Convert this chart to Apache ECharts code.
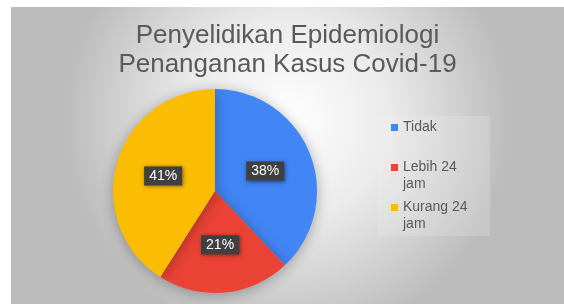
<!DOCTYPE html>
<html>
<head>
<meta charset="utf-8">
<script src="https://cdn.jsdelivr.net/npm/echarts@6/dist/echarts.min.js"></script>
<style>
html,body{margin:0;padding:0;background:#fff;}
#wrap{position:relative;width:564px;height:304px;overflow:hidden;background:#fff;}
#chart{position:absolute;left:11px;top:7px;width:553px;height:297px;}
</style>
</head>
<body>
<div id="wrap"><div id="chart"></div></div>
<script>
var titleLines = ['Penyelidikan Epidemiologi', 'Penanganan Kasus Covid-19'];
var categories = ['Tidak', 'Lebih 24 jam', 'Kurang 24 jam'];
var legendLines = [['Tidak'], ['Lebih 24', 'jam'], ['Kurang 24', 'jam']];
var values = [38, 21, 41];
var colors = ['#4285F4', '#EA4335', '#FBBC04'];

var chart = echarts.init(document.getElementById('chart'), null, {renderer: 'canvas'});
var data = categories.map(function (c, i) {
  return {name: c, value: values[i], itemStyle: {color: colors[i]}};
});
// top of each legend block (chart coords)
var legendTops = [112, 135, 175];
var legends = categories.map(function (c, i) {
  var multi = legendLines[i].length > 1;
  return {
    show: true,
    orient: 'vertical',
    left: 380,
    top: legendTops[i],
    padding: 0,
    itemWidth: 7,
    itemHeight: 7,
    icon: 'rect',
    selectedMode: false,
    data: [c],
    formatter: function () { return (multi ? ' \n' : '') + legendLines[i].join('\n'); },
    textStyle: {
      fontFamily: 'Liberation Sans, Arial, sans-serif',
      fontSize: 14,
      color: '#595959',
      lineHeight: 17
    }
  };
});

chart.setOption({
  backgroundColor: {
    type: 'radial', x: 0.5, y: 0.38, r: 0.75,
    colorStops: [
      {offset: 0, color: '#ffffff'},
      {offset: 0.45, color: '#ebebeb'},
      {offset: 1, color: '#bcbcbc'}
    ]
  },
  title: {
    text: titleLines.join('\n'),
    left: 'center',
    top: 9,
    textStyle: {
      fontFamily: 'Liberation Sans, Arial, sans-serif',
      fontSize: 26,
      fontWeight: 'normal',
      color: '#595959',
      lineHeight: 29
    }
  },
  graphic: [{
    type: 'rect', left: 367, top: 109, shape: {width: 112, height: 120},
    style: {fill: 'rgba(245,245,245,0.2)'}, silent: true, z: -1
  }],
  legend: legends,
  series: [{
    type: 'pie',
    center: [204, 184],
    radius: 102,
    startAngle: 90,
    clockwise: true,
    animation: false,
    data: data,
    itemStyle: {
      shadowBlur: 14,
      shadowColor: 'rgba(0,0,0,0.3)',
      shadowOffsetY: 2
    },
    label: {
      show: true,
      position: 'inside',
      formatter: '{c}%',
      fontFamily: 'Liberation Sans, Arial, sans-serif',
      fontSize: 14,
      color: '#ffffff',
      backgroundColor: '#404040',
      padding: [3, 5, 2, 5],
      shadowBlur: 4,
      shadowColor: 'rgba(0,0,0,0.5)',
      shadowOffsetX: 1,
      shadowOffsetY: 1
    },
    labelLine: {show: false},
    emphasis: {disabled: true}
  }]
});
</script>
</body>
</html>
